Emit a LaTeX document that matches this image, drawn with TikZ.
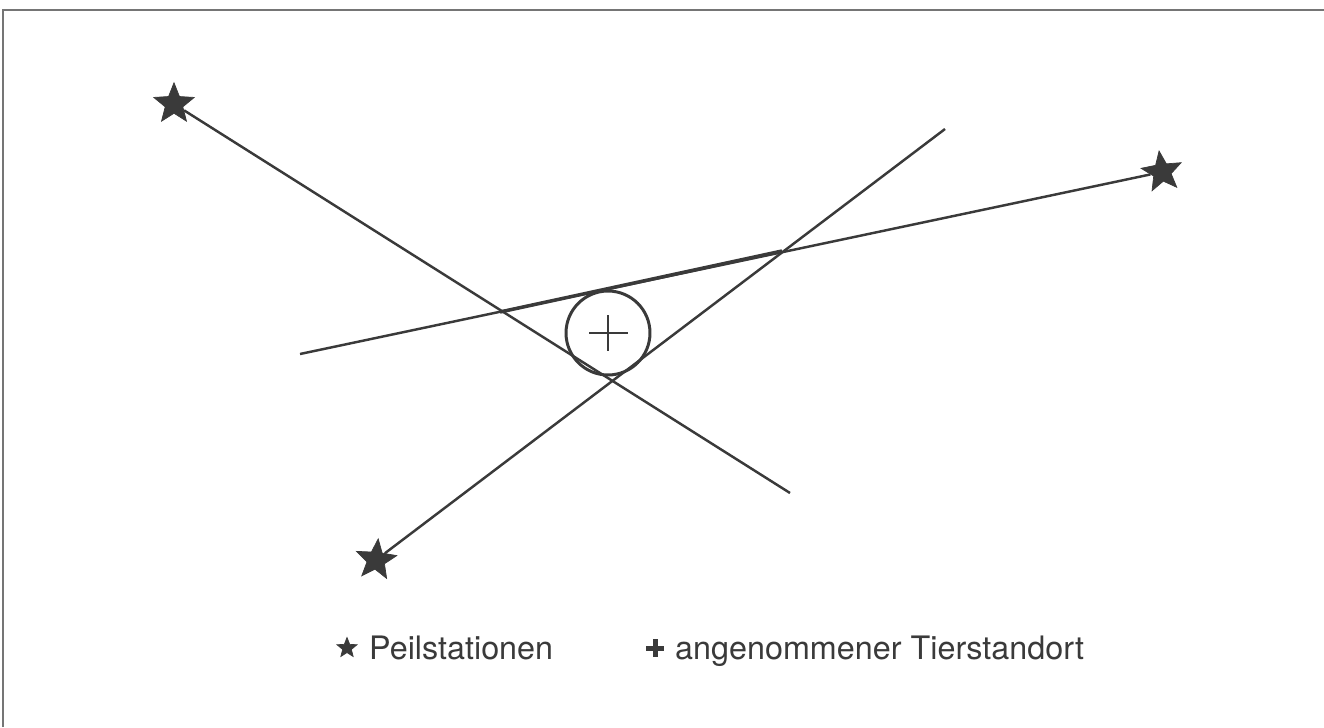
\documentclass[tikz,border=0pt]{standalone}
\usepackage{fontspec}
\setmainfont{TeX Gyre Heros}
\usetikzlibrary{shapes.geometric}
\definecolor{ink}{HTML}{3A3A3A}
\tikzset{
  station/.style={star, star points=5, star point ratio=2.3, fill=ink, draw=ink, minimum size=0.85cm, inner sep=0pt},
  bearing/.style={draw=ink, line width=1.4pt},
  legend/.style={anchor=base west, text=ink, font=\fontsize{18.4}{21}\selectfont},
}

\begin{document}
\begin{tikzpicture}[x=0.02cm,y=-0.02cm]
\useasboundingbox (0,0) rectangle (1324,727);
\draw[ink!70, line width=1pt] (3,727) -- (3,10) -- (1324,10);

% Peilstationen
\node[station] (s1) at (174,104) {};
\node[station, rotate=8] (s2) at (1162,172) {};
\node[station, rotate=-6] (s3) at (376,560) {};

\coordinate (e1) at (790,493);
\coordinate (e2) at (945,129);
\coordinate (e3) at (300,354);

\draw[bearing] (s1) -- (e1);
\draw[bearing] (s3) -- (e2);
\draw[bearing] (e3) -- (s2);
\draw[bearing, line width=2pt] (500,312) -- (782,251);

% Tierstandort
\node[circle, draw=ink, line width=1.7pt, minimum size=1.68cm] (ort) at (608,333) {};
\draw[ink, line width=1.4pt] (589,333) -- (628,333);
\draw[ink, line width=1.4pt] (608,315) -- (608,351);

% Legende
\node[station, minimum size=0.42cm] (k1) at (347,648) {};
\node[legend] (t1) at (363,659) {Peilstationen};
\draw[ink, line width=1mm] (646,648) -- (664,648);
\draw[ink, line width=1mm] (655,639) -- (655,657);
\node[legend] (t2) at (669,659) {angenommener Tierstandort};
\end{tikzpicture}
\end{document}
